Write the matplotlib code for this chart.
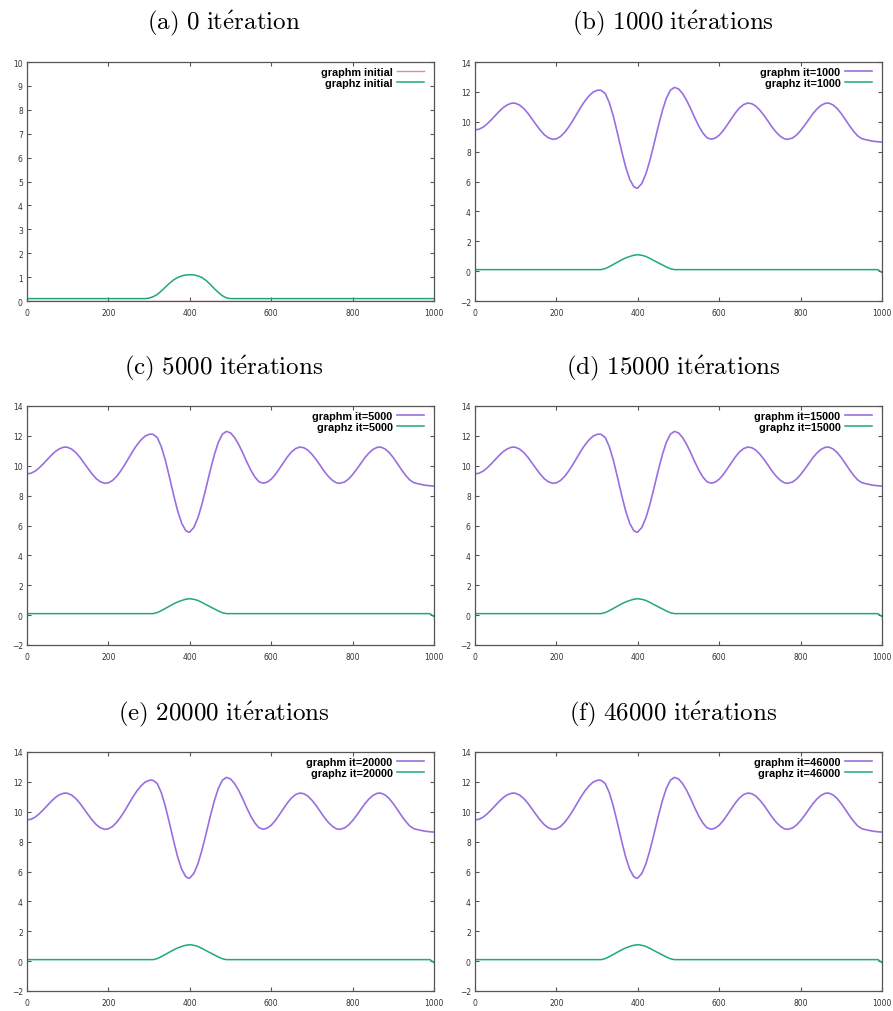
import matplotlib
matplotlib.use("Agg")
import matplotlib.pyplot as plt

plt.rcParams["mathtext.fontset"] = "cm"

# graphm after convergence (identical in panels b-f)
x_m = [0, 10, 20, 30, 40, 50, 60, 70, 80, 90, 95, 100, 110, 120, 130, 140, 150,
       160, 170, 180, 190, 193, 200, 210, 220, 230, 240, 250, 260, 270, 280, 290,
       300, 305, 310, 320, 330, 340, 350, 360, 370, 380, 390, 397, 400, 410, 420,
       430, 440, 450, 460, 470, 480, 490, 500, 510, 520, 530, 540, 550, 560, 570,
       580, 590, 600, 610, 620, 630, 640, 650, 660, 670, 680, 690, 700, 710, 720,
       730, 740, 750, 760, 768, 780, 790, 800, 810, 820, 830, 840, 850, 860, 866,
       870, 880, 890, 900, 910, 920, 930, 940, 950, 960, 970, 980, 990, 1000]
graphm = [9.45, 9.50, 9.64, 9.86, 10.13, 10.42, 10.71, 10.96, 11.14, 11.24, 11.25,
          11.23, 11.11, 10.88, 10.57, 10.19, 9.81, 9.45, 9.14, 8.93, 8.83, 8.83,
          8.86, 9.01, 9.28, 9.64, 10.06, 10.52, 10.98, 11.39, 11.73, 11.98,
          12.10, 12.12, 12.10, 11.89, 11.28, 10.36, 9.24, 8.07, 6.99, 6.15, 5.66, 5.55,
          5.57, 5.87, 6.52, 7.44, 8.53, 9.66, 10.71, 11.56, 12.11, 12.30,
          12.20, 11.89, 11.43, 10.87, 10.26, 9.70, 9.24, 8.93, 8.83,
          8.90, 9.10, 9.41, 9.80, 10.20, 10.60, 10.93, 11.15, 11.25,
          11.21, 11.05, 10.77, 10.43, 10.04, 9.64, 9.30, 9.03, 8.86, 8.82,
          8.91, 9.11, 9.41, 9.76, 10.15, 10.53, 10.85, 11.09, 11.23, 11.25,
          11.24, 11.12, 10.88, 10.54, 10.15, 9.74, 9.37, 9.06, 8.87, 8.80,
          8.74, 8.69, 8.66, 8.64]

# graphz (panels b-f)
x_z = [0, 300, 310, 320, 330, 340, 350, 360, 370, 380, 390, 400, 410, 420, 430,
       440, 450, 460, 470, 480, 490, 990, 1000]
graphz = [0.1, 0.1, 0.1, 0.17, 0.30, 0.45, 0.60, 0.75, 0.88, 0.98, 1.06, 1.10,
          1.06, 0.98, 0.85, 0.70, 0.56, 0.42, 0.28, 0.16, 0.1, 0.1, -0.1]

# initial state (panel a)
x_init = [0, 290, 300, 310, 320, 330, 340, 350, 360, 370, 380, 390, 400, 410,
          420, 430, 440, 450, 460, 470, 480, 490, 500, 1000]
graphz_init = [0.1, 0.1, 0.12, 0.18, 0.27, 0.42, 0.58, 0.74, 0.88, 0.98, 1.05,
               1.09, 1.10, 1.09, 1.05, 0.98, 0.86, 0.70, 0.52, 0.36, 0.22, 0.13,
               0.1, 0.1]
graphm_init_x = [0, 1000]
graphm_init = [0.0, 0.0]

iterations = [0, 1000, 5000, 15000, 20000, 46000]
letters = ["a", "b", "c", "d", "e", "f"]

col_m = "#9a6ee0"
col_z = "#1fa683"

fig = plt.figure(figsize=(8.93, 10.12), dpi=100)

lefts = [27 / 893, 475 / 893]
bottoms = [1 - 302 / 1012, 1 - 646 / 1012, 1 - 992 / 1012]
w = 407 / 893
h = 239 / 1012
title_y = [1 - 23 / 1012, 1 - 368 / 1012, 1 - 714 / 1012]
title_x = [224 / 893, 673 / 893]

for i, it in enumerate(iterations):
    r, c = divmod(i, 2)
    ax = fig.add_axes([lefts[c], bottoms[r], w, h])
    if it == 0:
        ax.plot(graphm_init_x, graphm_init, color="#e08aa0", lw=1.0, label="graphm initial")
        ax.plot(x_init, graphz_init, color=col_z, lw=1.1, label="graphz initial")
        ax.set_ylim(0, 10)
        ax.set_yticks(range(0, 11))
        title = r"$\mathrm{(%s)\ 0\ it\acute{e}ration}$" % letters[i]
    else:
        ax.plot(x_m, graphm, color=col_m, lw=1.2, label="graphm it=%d" % it)
        ax.plot(x_z, graphz, color=col_z, lw=1.1, label="graphz it=%d" % it)
        ax.set_ylim(-2, 14)
        ax.set_yticks(range(-2, 15, 2))
        title = r"$\mathrm{(%s)\ %d\ it\acute{e}rations}$" % (letters[i], it)
    ax.set_xlim(0, 1000)
    ax.set_xticks(range(0, 1001, 200))

    for s in ax.spines.values():
        s.set_color("#555555")
        s.set_linewidth(0.9)
    ax.tick_params(direction="in", length=3, width=0.8, color="#555555",
                   top=True, right=True, labelsize=5.5, labelcolor="#333333")
    ax.tick_params(axis="y", pad=3)
    ax.tick_params(axis="x", pad=5)

    ax.legend(loc="upper right", bbox_to_anchor=(1 - 10 / 407, 1 - 5 / 239),
              frameon=False, markerfirst=False, borderaxespad=0, borderpad=0,
              handlelength=2.5, handletextpad=0.4, labelspacing=0.05,
              prop={"family": "Liberation Sans", "weight": "bold", "size": 7.8})

    fig.text(title_x[c], title_y[r], title, ha="center", va="center", fontsize=18)

fig.savefig("out.png", dpi=100)
